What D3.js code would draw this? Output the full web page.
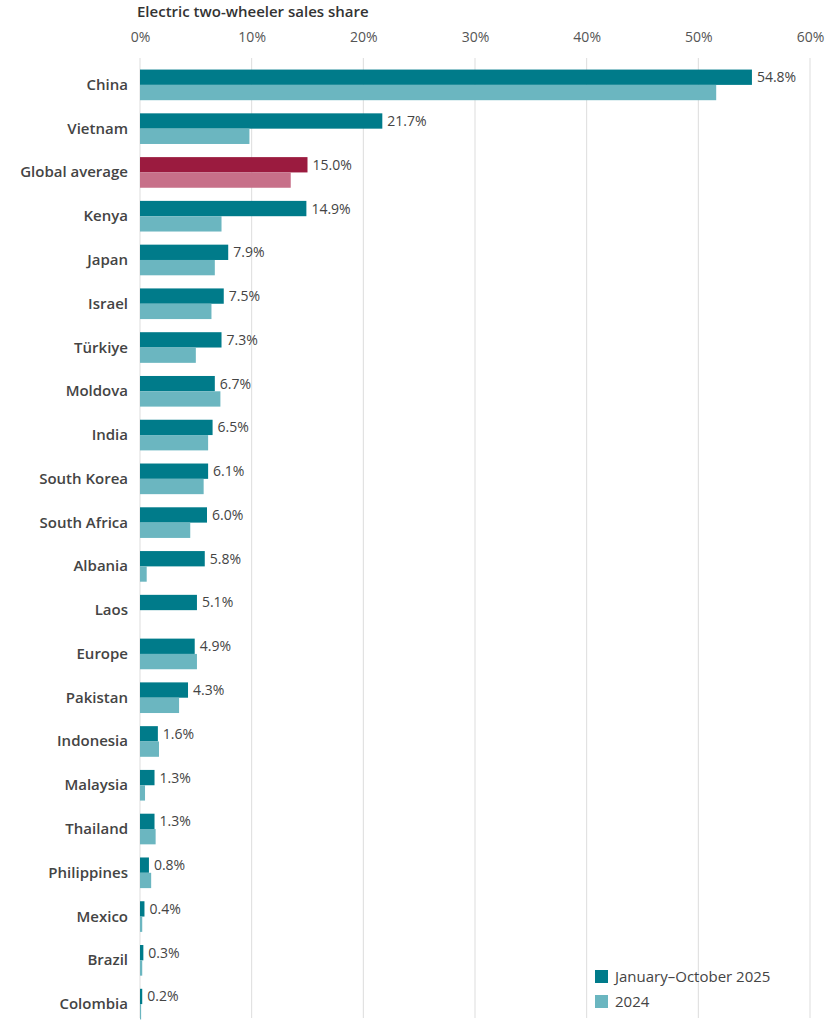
<!DOCTYPE html>
<html><head><meta charset="utf-8">
<script src="https://cdn.jsdelivr.net/npm/d3@7"></script>
<style>body{margin:0;background:#fff;font-family:"Open Sans",sans-serif}</style>
</head><body><svg id="c" width="825" height="1024"></svg>
<script>
const categories=["China","Vietnam","Global average","Kenya","Japan","Israel","Türkiye","Moldova","India","South Korea","South Africa","Albania","Laos","Europe","Pakistan","Indonesia","Malaysia","Thailand","Philippines","Mexico","Brazil","Colombia"];
const values2025=[54.8,21.7,15.0,14.9,7.9,7.5,7.3,6.7,6.5,6.1,6.0,5.8,5.1,4.9,4.3,1.6,1.3,1.3,0.8,0.4,0.3,0.2];
const values2024=[51.6,9.8,13.5,7.3,6.7,6.4,5.0,7.2,6.1,5.7,4.5,0.6,0,5.1,3.5,1.7,0.45,1.4,1.0,0.2,0.2,0.1];
const ticks=[0,10,20,30,40,50,60];
const seriesNames=["January–October 2025","2024"];

const svg=d3.select("#c");
const x=d3.scaleLinear().domain([0,60]).range([140,810]);
const y=d3.scaleBand().domain(categories).range([63,1026]).paddingInner(0.3).paddingOuter(0.15);
const c1=d=>d==="Global average"?"#9b1b3f":"#007b8a";
const c2=d=>d==="Global average"?"#c77089":"#6bb6c0";

svg.append("text").attr("x",137).attr("y",17).attr("font-size",15).attr("font-weight",600).attr("fill","#333").text("Electric two-wheeler sales share");
const ax=svg.append("g").attr("transform","translate(0,45)").call(d3.axisTop(x).tickValues(ticks).tickFormat(d=>d+"%").tickSize(0));
ax.select(".domain").remove();
ax.selectAll("text").attr("font-size",14).attr("fill","#555").attr("font-family","Open Sans");
svg.append("g").selectAll("line").data(ticks).join("line")
 .attr("x1",d=>x(d)).attr("x2",d=>x(d)).attr("y1",58).attr("y2",1018).attr("stroke","#ddd");

const bh=y.bandwidth()/2;
const g=svg.append("g");
g.selectAll(".b1").data(categories).join("rect").attr("x",x(0)).attr("y",d=>y(d))
 .attr("width",(d,i)=>x(values2025[i])-x(0)).attr("height",bh).attr("fill",c1);
g.selectAll(".b2").data(categories).join("rect").attr("x",x(0)).attr("y",d=>y(d)+bh)
 .attr("width",(d,i)=>x(values2024[i])-x(0)).attr("height",bh).attr("fill",c2);
g.selectAll(".v").data(categories).join("text").attr("x",(d,i)=>x(values2025[i])+5).attr("y",d=>y(d)+bh/2+5)
 .attr("font-size",14).attr("fill","#444").attr("font-weight",500).text((d,i)=>values2025[i].toFixed(1)+"%");
g.selectAll(".l").data(categories).join("text").attr("x",128).attr("y",d=>y(d)+bh+5).attr("text-anchor","end")
 .attr("font-size",15).attr("font-weight",600).attr("fill","#444").text(d=>d);

const lg=svg.append("g").attr("transform","translate(595,970)");
seriesNames.forEach((s,i)=>{
 lg.append("rect").attr("x",0).attr("y",i*25).attr("width",13).attr("height",13).attr("fill",i?"#6bb6c0":"#007b8a");
 lg.append("text").attr("x",20).attr("y",i*25+12).attr("font-size",15).attr("fill","#444").text(s);
});
</script></body></html>
